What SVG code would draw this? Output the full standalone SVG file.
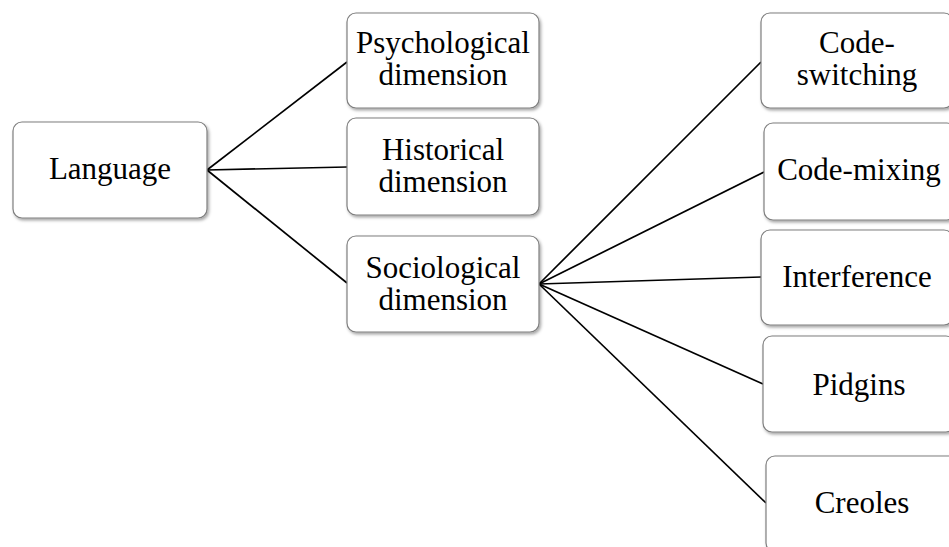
<svg xmlns="http://www.w3.org/2000/svg" width="949" height="547" viewBox="0 0 949 547">
<defs>
<filter id="sh" x="-10%" y="-10%" width="130%" height="130%">
<feDropShadow dx="1.5" dy="2" stdDeviation="1.5" flood-color="#000" flood-opacity="0.35"/>
</filter>
</defs>
<style>
.box{fill:#fff;stroke:#7f7f7f;stroke-width:1.2;filter:url(#sh)}
.t{font-family:'Liberation Serif','Times New Roman',serif;font-size:31px;fill:#000;text-anchor:middle}
.c{stroke:#000;stroke-width:1.7;fill:none}
</style>
<rect width="949" height="547" fill="#fff"/>
<g id="connectors">
<line class="c" x1="207" y1="170" x2="347" y2="62"/>
<line class="c" x1="207" y1="170" x2="347" y2="167"/>
<line class="c" x1="207" y1="170" x2="347" y2="283"/>
<line class="c" x1="539" y1="284" x2="761" y2="62"/>
<line class="c" x1="539" y1="284" x2="764" y2="172"/>
<line class="c" x1="539" y1="284" x2="761" y2="277"/>
<line class="c" x1="539" y1="284" x2="763" y2="384"/>
<line class="c" x1="539" y1="284" x2="766" y2="503"/>
</g>
<g font-family="Liberation Serif, Times New Roman, serif">
<g id="language">
<rect class="box" x="13" y="122" width="194" height="96" rx="9"/>
<text class="t" x="110" y="179">Language</text>
</g>
<g id="psychological">
<rect class="box" x="347" y="13" width="192" height="95" rx="9"/>
<text class="t" x="443" y="53">Psychological</text>
<text class="t" x="443" y="85">dimension</text>
</g>
<g id="historical">
<rect class="box" x="347" y="118" width="192" height="97" rx="9"/>
<text class="t" x="443" y="160">Historical</text>
<text class="t" x="443" y="192">dimension</text>
</g>
<g id="sociological">
<rect class="box" x="347" y="236" width="192" height="96" rx="9"/>
<text class="t" x="443" y="278">Sociological</text>
<text class="t" x="443" y="310">dimension</text>
</g>
<g id="code-switching">
<rect class="box" x="761" y="13" width="192" height="95" rx="9"/>
<text class="t" x="857" y="53">Code-</text>
<text class="t" x="857" y="85">switching</text>
</g>
<g id="code-mixing">
<rect class="box" x="764" y="123" width="192" height="97" rx="9"/>
<text class="t" x="859" y="180">Code-mixing</text>
</g>
<g id="interference">
<rect class="box" x="761" y="230" width="192" height="95" rx="9"/>
<text class="t" x="857" y="287">Interference</text>
</g>
<g id="pidgins">
<rect class="box" x="763" y="336" width="192" height="96" rx="9"/>
<text class="t" x="859" y="395">Pidgins</text>
</g>
<g id="creoles">
<rect class="box" x="766" y="456" width="192" height="96" rx="9"/>
<text class="t" x="862" y="513">Creoles</text>
</g>
</g>
</svg>
